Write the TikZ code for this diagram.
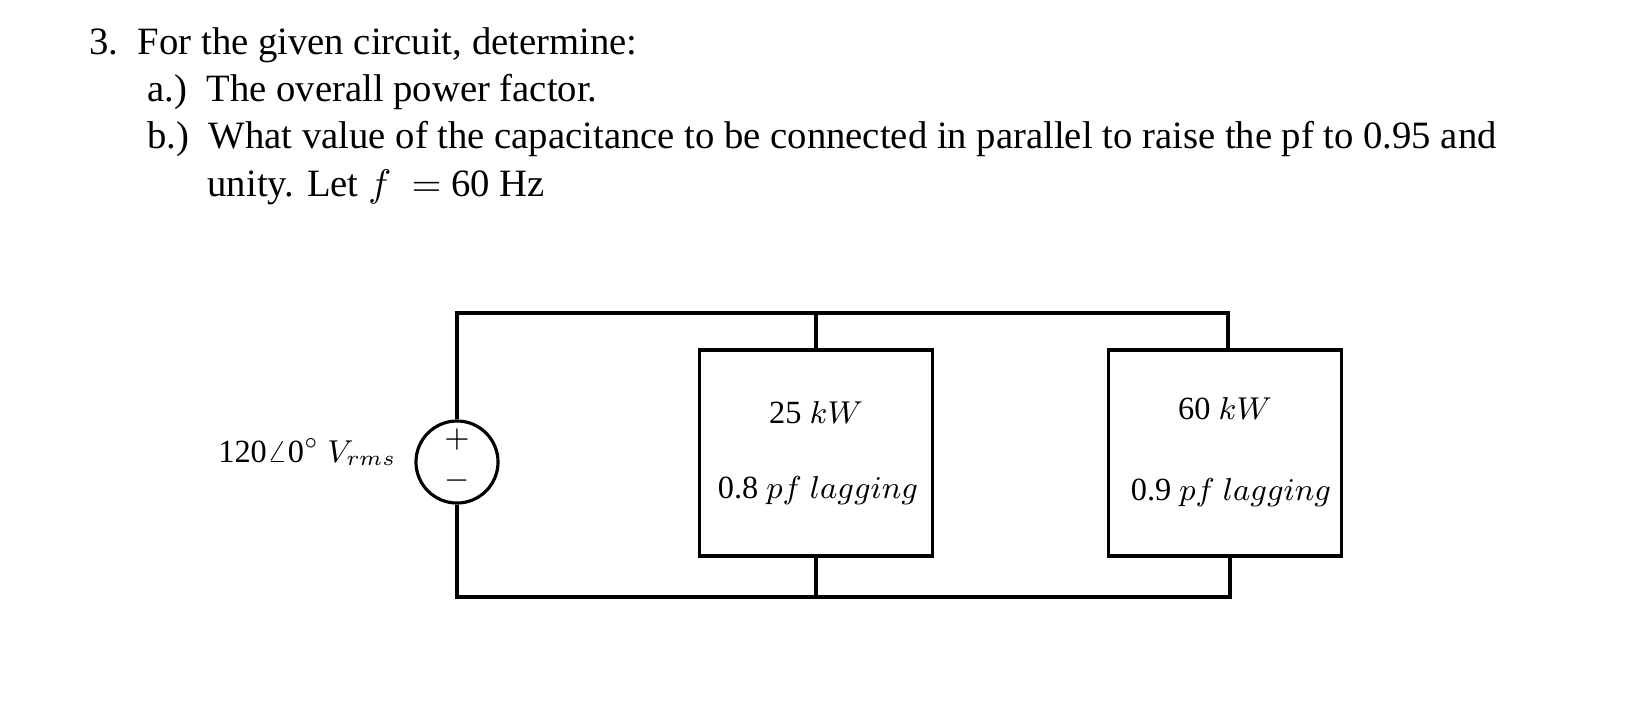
\documentclass[tikz,border=0pt]{standalone}
\usepackage{fontspec}
\setmainfont{Liberation Serif}
\usetikzlibrary{positioning}
\begin{document}
\begin{tikzpicture}[x=0.01cm, y=-0.01cm, line width=0.9pt]
    \tikzset{>=latex}
    % styles
    \tikzstyle{load}  = [rectangle, draw = black, minimum width = 2.33cm, minimum height = 2.06cm, inner sep = 0pt]
    \tikzstyle{quest} = [anchor = west, font = \fontsize{11pt}{13pt}\selectfont, inner sep = 0pt]
    \tikzstyle{lbl}   = [font = \fontsize{9.2pt}{11pt}\selectfont, inner sep = 0pt]
    \useasboundingbox (0,0) rectangle (1626,714);

    \node[quest] (q)  at (88,45)  {3.\ \ For the given circuit, determine:};
    \node[quest] (qa) at (146,92) {a.)\ \ The overall power factor.};
    \node[quest] (qb) at (146,139) {b.)\ \ What value of the capacitance to be connected in parallel to raise the pf to 0.95 and};
    \node[quest] (qc) at (206,187) {unity. Let $f\ =$ 60 Hz};

    \node[circle, draw, minimum size = 0.82cm, inner sep = 0pt] (src) at (457,462) {};
    \node[lbl] at (457,440) {$+$};
    \node[lbl] at (457,481) {$-$};
    \node[lbl, anchor = east] (v) at (398,452) {120$\angle$0$^\circ$ $V_{rms}$};

    \node[load] (L1) at (816,453) {};
    \node[load] (L2) at (1225,453) {};
    \node[lbl] (p1) at (816,413) {25 $kW$};
    \node[lbl] (f1) at (818,491) {0.8 $pf\ lagging$};
    \node[lbl] (p2) at (1225,409) {60 $kW$};
    \node[lbl] (f2) at (1231,493) {0.9 $pf\ lagging$};

    \coordinate (t0) at (457,313);
    \coordinate (t2) at (1228,313);
    \coordinate (b0) at (457,597);
    \coordinate (b2) at (1230,597);
    \draw (src.north) -- (t0) -- (t2) -- (t2 |- L2.north);
    \draw (src.south) -- (b0) -- (b2) -- (b2 |- L2.south);
    \draw (L1.north) -- (L1.north |- t0);
    \draw (L1.south) -- (L1.south |- b0);
\end{tikzpicture}
\end{document}
